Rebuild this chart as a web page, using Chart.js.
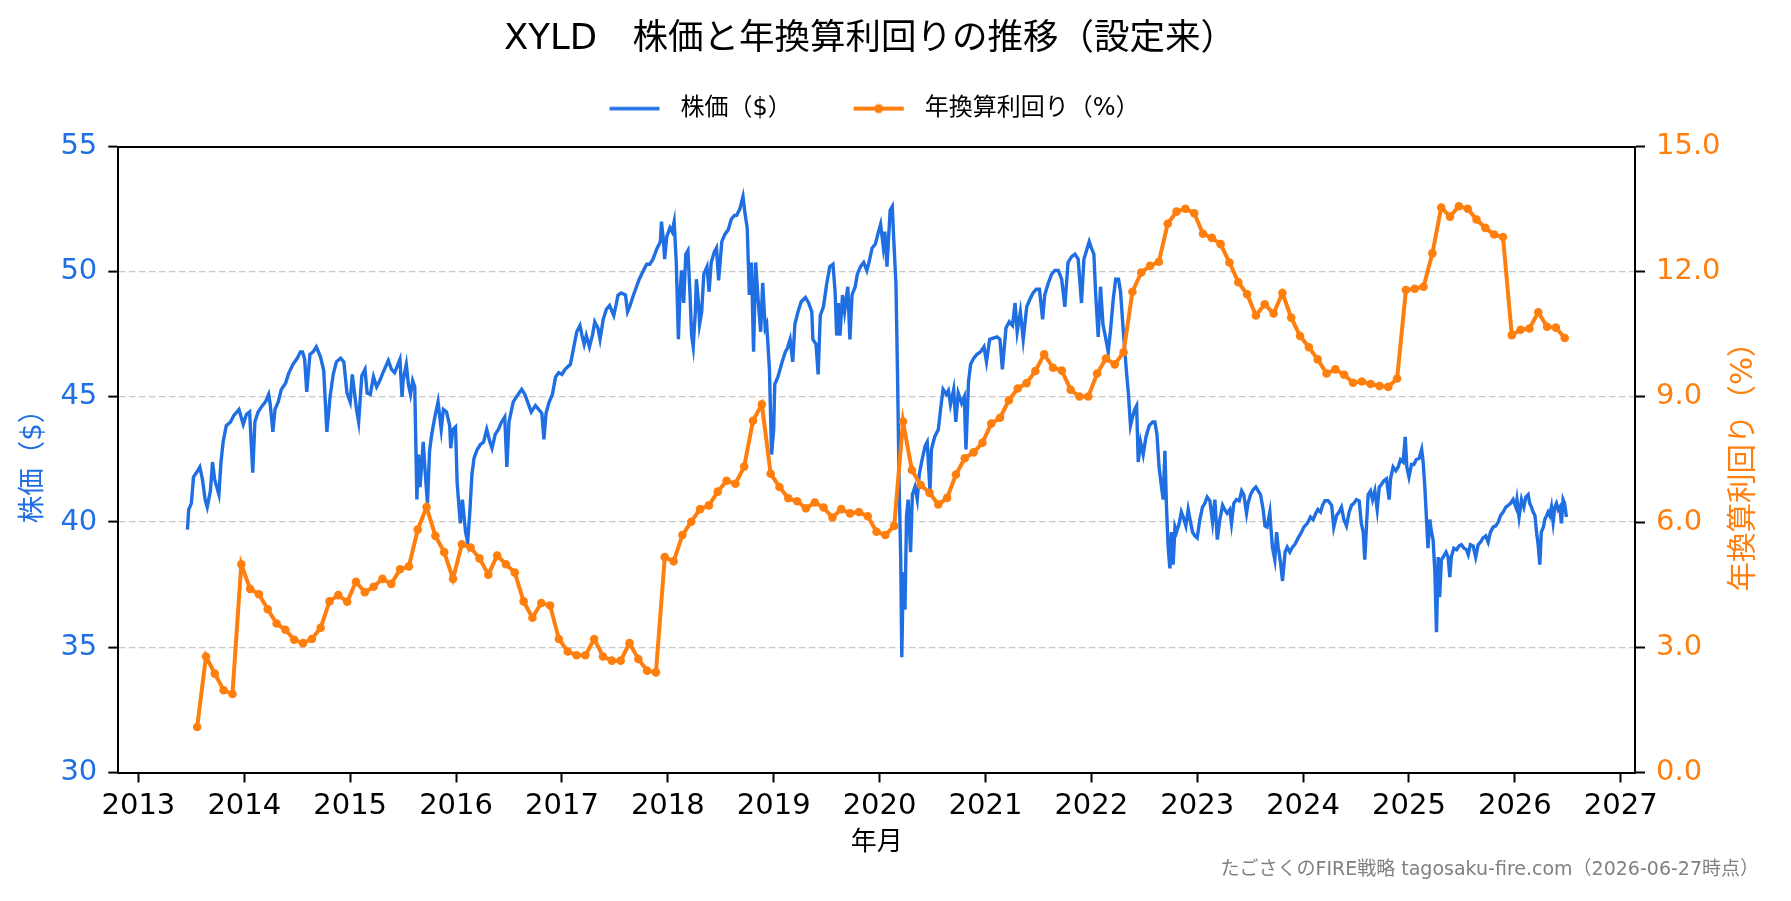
<!DOCTYPE html>
<html><head><meta charset="utf-8">
<script src="https://cdn.jsdelivr.net/npm/chart.js@4.4.1/dist/chart.umd.min.js"></script>
<style>html,body{margin:0;padding:0;background:#fff}canvas{display:block}</style>
</head><body>
<canvas id="c" width="1791" height="901"></canvas>
<script>
// ---- tick labels ----
const xTickYears = [2013,2014,2015,2016,2017,2018,2019,2020,2021,2022,2023,2024,2025,2026,2027];
const priceTicks = [30,35,40,45,50,55];
const yieldTicks = [0,3,6,9,12,15];

// ---- price (USD), [decimal year, price] per year ----
const price2013 = [[2013.463,39.7],[2013.475,40.5],[2013.50,40.75],[2013.52,41.8],[2013.56,42.05],[2013.58,42.2],[2013.605,41.7],[2013.63,40.9],[2013.65,40.6],[2013.68,41.25],[2013.70,42.4],[2013.72,41.7],[2013.76,41.1],[2013.78,42.4],[2013.80,43.2],[2013.83,43.85],[2013.87,44.0],[2013.90,44.25],[2013.95,44.5],[2013.97,44.2],[2013.99,43.9]];
const price2014 = [[2014.02,44.3],[2014.05,44.4],[2014.08,41.97],[2014.10,44.0],[2014.13,44.4],[2014.17,44.65],[2014.20,44.8],[2014.23,45.1],[2014.245,44.7],[2014.27,43.6],[2014.29,44.5],[2014.32,44.8],[2014.35,45.3],[2014.39,45.55],[2014.42,45.95],[2014.46,46.3],[2014.50,46.54],[2014.53,46.8],[2014.55,46.8],[2014.57,46.5],[2014.59,45.2],[2014.62,46.7],[2014.65,46.8],[2014.68,47.0],[2014.72,46.6],[2014.75,46.05],[2014.78,43.6],[2014.81,45.0],[2014.84,45.9],[2014.87,46.4],[2014.91,46.55],[2014.94,46.4],[2014.97,45.15]];
const price2015 = [[2015.00,44.8],[2015.02,45.9],[2015.06,44.5],[2015.08,44.0],[2015.11,45.85],[2015.14,46.1],[2015.16,45.15],[2015.19,45.1],[2015.22,45.8],[2015.25,45.4],[2015.28,45.65],[2015.31,45.97],[2015.36,46.45],[2015.39,46.1],[2015.42,45.97],[2015.47,46.5],[2015.49,45.0],[2015.50,45.65],[2015.53,46.3],[2015.55,45.5],[2015.57,45.1],[2015.59,45.65],[2015.61,45.4],[2015.63,40.9],[2015.645,42.7],[2015.66,41.4],[2015.69,43.2],[2015.71,41.9],[2015.73,40.75],[2015.75,42.85],[2015.77,43.5],[2015.80,44.2],[2015.83,44.8],[2015.86,43.7],[2015.88,44.5],[2015.91,44.4],[2015.94,43.85],[2015.95,42.95],[2015.97,43.7],[2015.995,43.8]];
const price2016 = [[2016.01,41.6],[2016.04,39.95],[2016.06,40.9],[2016.09,39.6],[2016.11,39.2],[2016.13,40.4],[2016.15,41.9],[2016.17,42.55],[2016.20,42.9],[2016.23,43.1],[2016.26,43.2],[2016.29,43.7],[2016.32,43.2],[2016.34,42.95],[2016.37,43.5],[2016.40,43.7],[2016.43,44.0],[2016.46,44.2],[2016.48,42.2],[2016.50,44.0],[2016.54,44.8],[2016.57,45.0],[2016.62,45.3],[2016.65,45.1],[2016.68,44.75],[2016.71,44.4],[2016.75,44.65],[2016.78,44.5],[2016.81,44.35],[2016.83,43.3],[2016.85,44.35],[2016.88,44.8],[2016.91,45.1],[2016.94,45.8],[2016.97,45.97]];
const price2017 = [[2017.00,45.9],[2017.03,46.1],[2017.08,46.3],[2017.11,46.95],[2017.14,47.6],[2017.17,47.85],[2017.19,47.45],[2017.21,47.1],[2017.23,47.45],[2017.26,47.0],[2017.29,47.5],[2017.31,48.0],[2017.34,47.75],[2017.36,47.3],[2017.39,48.1],[2017.42,48.5],[2017.45,48.65],[2017.49,48.25],[2017.51,48.65],[2017.53,49.07],[2017.56,49.15],[2017.60,49.07],[2017.62,48.4],[2017.64,48.6],[2017.67,49.0],[2017.70,49.35],[2017.73,49.7],[2017.77,50.05],[2017.80,50.3],[2017.83,50.3],[2017.86,50.5],[2017.895,50.9],[2017.93,51.2],[2017.94,52.0],[2017.96,51.2],[2017.97,50.5],[2017.99,51.4]];
const price2018 = [[2018.02,51.75],[2018.04,51.6],[2018.06,52.0],[2018.08,50.37],[2018.10,47.3],[2018.115,49.1],[2018.13,50.05],[2018.15,48.75],[2018.17,50.7],[2018.19,50.85],[2018.21,49.07],[2018.225,47.45],[2018.24,47.0],[2018.26,48.4],[2018.27,49.7],[2018.29,48.75],[2018.30,47.9],[2018.32,48.4],[2018.34,49.9],[2018.37,50.2],[2018.39,49.2],[2018.41,50.37],[2018.44,50.8],[2018.46,50.95],[2018.48,49.65],[2018.51,51.2],[2018.54,51.5],[2018.57,51.67],[2018.60,52.1],[2018.63,52.25],[2018.65,52.25],[2018.68,52.5],[2018.71,53.0],[2018.73,52.3],[2018.75,51.75],[2018.77,49.07],[2018.79,50.37],[2018.81,46.8],[2018.83,50.37],[2018.855,48.75],[2018.877,47.6],[2018.896,49.55],[2018.92,47.75],[2018.934,47.9],[2018.96,46.1],[2018.98,42.7]];
const price2019 = [[2019.00,43.7],[2019.01,45.5],[2019.04,45.8],[2019.08,46.4],[2019.11,46.8],[2019.13,46.95],[2019.155,47.3],[2019.18,46.4],[2019.20,47.9],[2019.23,48.4],[2019.26,48.8],[2019.30,48.97],[2019.33,48.75],[2019.36,48.4],[2019.37,47.3],[2019.40,47.1],[2019.42,45.9],[2019.44,48.25],[2019.47,48.6],[2019.50,49.5],[2019.53,50.2],[2019.56,50.3],[2019.58,49.2],[2019.595,47.45],[2019.61,48.75],[2019.626,47.45],[2019.65,49.07],[2019.67,48.4],[2019.70,49.4],[2019.72,47.3],[2019.74,49.07],[2019.77,49.4],[2019.79,49.9],[2019.82,50.2],[2019.85,50.37],[2019.88,50.05],[2019.90,50.37],[2019.93,50.95],[2019.96,51.1],[2019.99,51.6]];
const price2020 = [[2020.01,51.9],[2020.035,51.0],[2020.05,51.6],[2020.07,50.2],[2020.10,52.45],[2020.12,52.6],[2020.135,51.2],[2020.155,49.5],[2020.17,45.8],[2020.185,41.5],[2020.20,38.5],[2020.21,34.6],[2020.224,38.0],[2020.24,36.5],[2020.255,40.26],[2020.27,40.9],[2020.293,38.8],[2020.31,41.1],[2020.334,41.4],[2020.356,40.9],[2020.375,41.9],[2020.397,42.4],[2020.43,43.04],[2020.45,43.2],[2020.476,41.25],[2020.49,42.9],[2020.52,43.4],[2020.555,43.7],[2020.576,44.5],[2020.60,45.3],[2020.63,45.1],[2020.65,45.25],[2020.67,44.7],[2020.70,45.3],[2020.72,44.0],[2020.743,45.15],[2020.775,44.75],[2020.80,45.0],[2020.816,42.9],[2020.84,45.6],[2020.86,46.3],[2020.89,46.55],[2020.92,46.7],[2020.954,46.8],[2020.986,47.0]];
const price2021 = [[2021.01,46.4],[2021.04,47.3],[2021.074,47.35],[2021.11,47.4],[2021.137,47.3],[2021.16,46.1],[2021.194,47.75],[2021.225,48.0],[2021.256,47.85],[2021.28,48.75],[2021.30,47.6],[2021.33,48.4],[2021.357,47.3],[2021.39,48.6],[2021.42,48.9],[2021.45,49.15],[2021.48,49.3],[2021.51,49.3],[2021.54,48.1],[2021.56,49.07],[2021.59,49.5],[2021.625,49.9],[2021.656,50.05],[2021.688,50.05],[2021.72,49.7],[2021.75,48.6],[2021.78,50.37],[2021.814,50.6],[2021.845,50.7],[2021.876,50.5],[2021.907,48.75],[2021.93,50.5],[2021.955,50.85],[2021.98,51.2]];
const price2022 = [[2022.00,50.95],[2022.024,50.7],[2022.04,49.2],[2022.065,47.4],[2022.087,49.4],[2022.11,47.9],[2022.138,47.3],[2022.16,46.8],[2022.18,47.6],[2022.207,48.9],[2022.23,49.7],[2022.257,49.7],[2022.276,49.2],[2022.30,47.75],[2022.33,46.1],[2022.35,45.15],[2022.37,43.85],[2022.39,44.2],[2022.41,44.5],[2022.428,44.65],[2022.443,42.4],[2022.465,43.2],[2022.49,42.7],[2022.516,43.4],[2022.547,43.85],[2022.58,44.0],[2022.60,44.0],[2022.62,43.5],[2022.64,42.2],[2022.663,41.4],[2022.679,40.9],[2022.695,42.85],[2022.71,40.6],[2022.726,39.0],[2022.742,38.15],[2022.757,39.6],[2022.773,38.3],[2022.79,39.8],[2022.805,39.6],[2022.83,39.95],[2022.85,40.4],[2022.868,40.2],[2022.893,39.85],[2022.915,40.5],[2022.937,40.0],[2022.956,39.6],[2022.978,39.45]];
const price2023 = [[2023.00,39.37],[2023.025,40.1],[2023.05,40.6],[2023.072,40.75],[2023.094,41.0],[2023.12,40.85],[2023.145,40.0],[2023.167,40.9],[2023.19,39.3],[2023.214,40.1],[2023.24,40.67],[2023.26,40.5],[2023.283,40.35],[2023.308,40.5],[2023.324,39.95],[2023.346,40.75],[2023.37,40.9],[2023.397,40.85],[2023.42,41.25],[2023.44,41.1],[2023.466,40.35],[2023.48,40.75],[2023.504,41.1],[2023.53,41.3],[2023.554,41.4],[2023.576,41.25],[2023.598,41.1],[2023.623,40.5],[2023.64,39.85],[2023.66,39.8],[2023.686,40.4],[2023.71,39.0],[2023.733,38.5],[2023.75,39.6],[2023.765,39.0],[2023.787,38.4],[2023.806,37.65],[2023.83,38.8],[2023.85,39.0],[2023.875,38.8],[2023.90,39.0],[2023.922,39.1],[2023.954,39.37],[2023.985,39.6]];
const price2024 = [[2024.007,39.8],[2024.04,39.95],[2024.07,40.2],[2024.095,40.1],[2024.12,40.35],[2024.14,40.5],[2024.165,40.4],[2024.184,40.67],[2024.206,40.85],[2024.237,40.85],[2024.27,40.67],[2024.29,39.8],[2024.316,40.26],[2024.34,40.4],[2024.363,40.6],[2024.385,40.1],[2024.41,39.85],[2024.435,40.4],[2024.457,40.67],[2024.48,40.75],[2024.504,40.9],[2024.53,40.85],[2024.55,39.95],[2024.568,39.6],[2024.583,38.5],[2024.60,39.95],[2024.615,41.1],[2024.637,41.25],[2024.656,40.9],[2024.678,41.25],[2024.70,40.5],[2024.72,41.4],[2024.74,41.5],[2024.763,41.65],[2024.788,41.73],[2024.813,40.9],[2024.826,41.73],[2024.85,42.2],[2024.876,42.05],[2024.898,42.2],[2024.92,42.5],[2024.945,42.4],[2024.965,43.4],[2024.98,42.2]];
const price2025 = [[2025.00,41.8],[2025.024,42.3],[2025.046,42.3],[2025.07,42.5],[2025.097,42.55],[2025.12,42.9],[2025.134,42.4],[2025.15,41.4],[2025.166,40.1],[2025.18,38.96],[2025.197,40.1],[2025.213,39.6],[2025.228,39.3],[2025.245,38.0],[2025.26,35.6],[2025.276,38.6],[2025.29,37.0],[2025.307,38.5],[2025.323,38.6],[2025.35,38.8],[2025.37,38.6],[2025.386,37.8],[2025.40,38.6],[2025.424,38.96],[2025.45,38.9],[2025.474,39.05],[2025.496,39.1],[2025.52,38.96],[2025.543,38.9],[2025.56,38.7],[2025.58,39.1],[2025.606,39.05],[2025.63,38.6],[2025.654,39.1],[2025.676,39.2],[2025.70,39.37],[2025.726,39.45],[2025.748,39.2],[2025.77,39.6],[2025.795,39.8],[2025.82,39.85],[2025.843,40.0],[2025.865,40.26],[2025.89,40.4],[2025.915,40.6],[2025.937,40.67],[2025.96,40.75],[2025.984,40.9]];
const price2026 = [[2026.01,40.6],[2026.02,40.9],[2026.04,40.2],[2026.063,40.9],[2026.085,40.6],[2026.104,41.0],[2026.126,41.1],[2026.14,40.75],[2026.157,40.6],[2026.173,40.4],[2026.19,40.26],[2026.205,39.6],[2026.22,39.1],[2026.236,38.3],[2026.25,39.6],[2026.27,39.8],[2026.283,40.1],[2026.30,40.26],[2026.314,40.4],[2026.33,40.26],[2026.346,40.6],[2026.362,40.0],[2026.378,40.6],[2026.393,40.75],[2026.41,40.5],[2026.425,40.6],[2026.44,39.95],[2026.456,40.9],[2026.47,40.75],[2026.487,40.2]];

// ---- annualized yield (%), monthly; 2013 starts in July ----
const yield2013 = [1.09, 2.78, 2.37, 1.97, 1.88, 4.99];
const yield2014 = [4.40, 4.27, 3.91, 3.57, 3.42, 3.18, 3.10, 3.20, 3.47, 4.10, 4.25, 4.09];
const yield2015 = [4.57, 4.32, 4.45, 4.64, 4.52, 4.87, 4.94, 5.82, 6.36, 5.67, 5.28, 4.64];
const yield2016 = [5.47, 5.39, 5.13, 4.74, 5.20, 4.99, 4.79, 4.10, 3.71, 4.06, 4.00, 3.20];
const yield2017 = [2.90, 2.81, 2.81, 3.20, 2.78, 2.68, 2.68, 3.10, 2.72, 2.44, 2.40, 5.16];
const yield2018 = [5.06, 5.69, 6.01, 6.31, 6.40, 6.73, 6.99, 6.92, 7.33, 8.43, 8.82, 7.16];
const yield2019 = [6.84, 6.57, 6.50, 6.33, 6.47, 6.35, 6.11, 6.31, 6.21, 6.24, 6.14, 5.77];
const yield2020 = [5.69, 5.91, 8.41, 7.25, 6.89, 6.70, 6.42, 6.58, 7.14, 7.53, 7.67, 7.90];
const yield2021 = [8.36, 8.50, 8.92, 9.20, 9.33, 9.62, 10.02, 9.70, 9.63, 9.17, 9.01, 9.01];
const yield2022 = [9.56, 9.92, 9.78, 10.07, 11.52, 11.98, 12.14, 12.24, 13.15, 13.44, 13.51, 13.40];
const yield2023 = [12.91, 12.81, 12.66, 12.22, 11.75, 11.46, 10.95, 11.22, 11.00, 11.49, 10.90, 10.46];
const yield2024 = [10.19, 9.90, 9.56, 9.66, 9.53, 9.34, 9.37, 9.31, 9.26, 9.24, 9.44, 11.56];
const yield2025 = [11.59, 11.64, 12.44, 13.54, 13.32, 13.57, 13.51, 13.25, 13.05, 12.89, 12.83, 10.48];
const yield2026 = [10.61, 10.64, 11.03, 10.68, 10.66, 10.41];
const yieldPayDay = 21; // approx. day of month of each monthly point

// ---- build series ----
const priceYears = [price2013,price2014,price2015,price2016,price2017,price2018,price2019,price2020,price2021,price2022,price2023,price2024,price2025,price2026];
const pricePoints = [].concat(...priceYears).map(p => ({x: p[0], y: p[1]}));
const yieldByYear = [[2013,7,yield2013],[2014,1,yield2014],[2015,1,yield2015],[2016,1,yield2016],[2017,1,yield2017],[2018,1,yield2018],[2019,1,yield2019],[2020,1,yield2020],[2021,1,yield2021],[2022,1,yield2022],[2023,1,yield2023],[2024,1,yield2024],[2025,1,yield2025],[2026,1,yield2026]];
const yieldPoints = [];
yieldByYear.forEach(([yr, m0, vals]) => vals.forEach((v, i) => {
  yieldPoints.push({x: yr + (m0 - 1 + i + (yieldPayDay - 1) / 30.4) / 12, y: v});
}));

const BLUE = '#1f6fe3';
const ORANGE = '#ff7f0e';
const JP = '"DejaVu Sans", "Noto Sans CJK JP", sans-serif';
const NUM = '"DejaVu Sans", sans-serif';

function swatch(color, lw, marker) {
  const c = document.createElement('canvas');
  c.width = 68; c.height = 14;
  const g = c.getContext('2d');
  g.strokeStyle = color; g.lineWidth = lw;
  g.beginPath(); g.moveTo(9, 7); g.lineTo(59, 7); g.stroke();
  if (marker) { g.fillStyle = color; g.beginPath(); g.arc(34, 7, 4.5, 0, Math.PI * 2); g.fill(); }
  return c;
}
const blueSw = swatch(BLUE, 3.4, false);
const orangeSw = swatch(ORANGE, 4, true);

const rightTitle = {
  id: 'rightTitle',
  afterDraw(chart) {
    const s = chart.scales.yR, a = chart.chartArea, ctx = chart.ctx;
    ctx.save();
    ctx.translate(s.left + 109, (a.top + a.bottom) / 2);
    ctx.rotate(-Math.PI / 2);
    ctx.font = '29.5px ' + JP;
    ctx.fillStyle = ORANGE;
    ctx.textAlign = 'center';
    ctx.textBaseline = 'middle';
    ctx.fillText('年換算利回り（%）', 0, 0);
    ctx.restore();
  }
};

const X_MIN = 2012.81, X_MAX = 2027.135;

new Chart(document.getElementById('c'), {
  type: 'line',
  data: {
    datasets: [
      {label: '株価（$）', data: pricePoints, borderColor: BLUE, backgroundColor: BLUE, borderWidth: 3.4,
       pointRadius: 0, tension: 0, yAxisID: 'y', xAxisID: 'x', order: 1},
      {label: '年換算利回り（%）', data: yieldPoints, borderColor: ORANGE, backgroundColor: ORANGE, borderWidth: 4,
       pointRadius: 4.3, pointBorderWidth: 0, pointBackgroundColor: ORANGE, tension: 0, yAxisID: 'yR', xAxisID: 'x', order: 0}
    ]
  },
  options: {
    responsive: false,
    animation: false,
    devicePixelRatio: 1,
    layout: {padding: {left: -19, right: 32, top: 0, bottom: 0}},
    plugins: {
      tooltip: {enabled: false},
      title: {display: true, text: 'XYLD　株価と年換算利回りの推移（設定来）', color: '#000',
        font: {family: JP, size: 35.5, weight: 'normal', lineHeight: 0.2}, padding: {top: 36.5, bottom: 0}},
      legend: {display: true, position: 'top', align: 'center',
        labels: {usePointStyle: true, pointStyleWidth: 68, padding: 53, color: '#000',
          font: {family: JP, size: 24},
          generateLabels: () => [
            {text: '株価（$）', pointStyle: blueSw, datasetIndex: 0, hidden: false, lineWidth: 0, fillStyle: BLUE, strokeStyle: BLUE, fontColor: '#000'},
            {text: '年換算利回り（%）', pointStyle: orangeSw, datasetIndex: 1, hidden: false, lineWidth: 0, fillStyle: ORANGE, strokeStyle: ORANGE, fontColor: '#000'}
          ]}},
      subtitle: {display: true, position: 'bottom', align: 'end', text: 'たごさくのFIRE戦略 tagosaku-fire.com（2026-06-27時点）',
        color: '#808080', font: {family: JP, size: 19, weight: 'normal'}, padding: {top: 0, bottom: 19.5}}
    },
    scales: {
      x: {type: 'linear', position: 'bottom', min: X_MIN, max: X_MAX,
        afterBuildTicks: s => { s.ticks = xTickYears.map(v => ({value: v})); },
        afterFit: s => { s.height = 86.2; },
        ticks: {color: '#000', font: {family: NUM, size: 29}, padding: 6.5, maxRotation: 0, autoSkip: false,
          callback: v => String(v)},
        grid: {drawOnChartArea: false, drawTicks: true, tickLength: 10, tickColor: '#000', tickWidth: 2},
        border: {display: true, color: '#000', width: 2},
        title: {display: true, text: '年月', color: '#000', font: {family: JP, size: 26}, padding: {top: 0, bottom: 0}}},
      xTop: {type: 'linear', position: 'top', min: X_MIN, max: X_MAX,
        afterFit: s => { const c = s.chart; const used = (c.titleBlock ? c.titleBlock.height : 0) + (c.legend ? c.legend.height : 0); s.height = Math.max(0, 146.5 - used); },
        ticks: {display: false},
        grid: {drawOnChartArea: false, drawTicks: false},
        border: {display: true, color: '#000', width: 2}},
      y: {type: 'linear', position: 'left', min: 30, max: 55,
        afterBuildTicks: s => { s.ticks = priceTicks.map(v => ({value: v})); },
        afterFit: s => { s.width = 137.3; },
        ticks: {color: BLUE, font: {family: NUM, size: 29}, padding: 11, callback: v => String(v)},
        grid: {color: c => (c.tick && (c.tick.value === 30 || c.tick.value === 55)) ? 'rgba(0,0,0,0)' : '#c8c8c8',
          lineWidth: 1.2, drawTicks: true, tickLength: 10, tickColor: '#000', tickWidth: 2, tickBorderDash: []},
        border: {display: true, color: '#000', width: 2, dash: [6.5, 3.5]},
        title: {display: true, text: '株価（$）', color: BLUE, font: {family: JP, size: 27.5}, padding: {top: 36.5, bottom: 0}}},
      yR: {type: 'linear', position: 'right', min: 0, max: 15,
        afterBuildTicks: s => { s.ticks = yieldTicks.map(v => ({value: v})); },
        afterFit: s => { s.width = 124; },
        ticks: {color: ORANGE, font: {family: NUM, size: 29}, padding: 11, callback: v => Number(v).toFixed(1)},
        grid: {drawOnChartArea: false, drawTicks: true, tickLength: 10, tickColor: '#000', tickWidth: 2},
        border: {display: true, color: '#000', width: 2}}
    }
  },
  plugins: [rightTitle]
});
</script>
</body></html>
